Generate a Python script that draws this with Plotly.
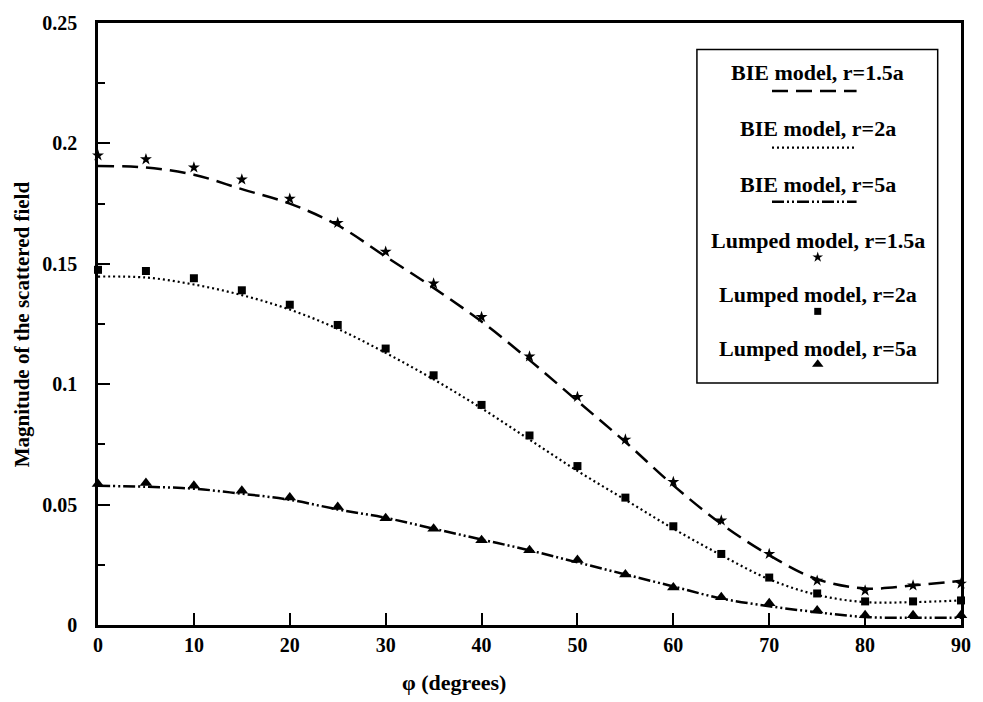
import plotly.graph_objects as go

phi = [0, 5, 10, 15, 20, 25, 30, 35, 40, 45, 50, 55, 60, 65, 70, 75, 80, 85, 90]

bie_15 = [0.1906, 0.1900, 0.187, 0.181, 0.175, 0.166, 0.153, 0.140, 0.126, 0.110, 0.093,
          0.076, 0.058, 0.042, 0.029, 0.019, 0.0152, 0.0164, 0.0184]
bie_2 = [0.1447, 0.1443, 0.1414, 0.137, 0.131, 0.123, 0.113, 0.102, 0.090, 0.077, 0.064,
         0.052, 0.040, 0.029, 0.019, 0.0125, 0.0095, 0.0095, 0.0102]
bie_5 = [0.0578, 0.0574, 0.0566, 0.0545, 0.052, 0.048, 0.0445, 0.040, 0.0355, 0.031, 0.026,
         0.021, 0.016, 0.011, 0.0078, 0.0053, 0.0033, 0.003, 0.003]

lump_15 = [0.195, 0.1934, 0.190, 0.185, 0.177, 0.167, 0.155, 0.1418, 0.1279, 0.1115, 0.0947,
           0.077, 0.0594, 0.0434, 0.0295, 0.0184, 0.0143, 0.0164, 0.0172]
lump_2 = [0.1475, 0.147, 0.144, 0.139, 0.133, 0.1246, 0.1148, 0.1037, 0.0914, 0.0787, 0.066,
          0.0529, 0.041, 0.0295, 0.0197, 0.0131, 0.0098, 0.0098, 0.0102]
lump_5 = [0.0586, 0.059, 0.0578, 0.0557, 0.0529, 0.049, 0.0443, 0.040, 0.0352, 0.031, 0.027,
          0.021, 0.0156, 0.0115, 0.009, 0.006, 0.004, 0.004, 0.004]

legend_labels = ["BIE model, r=1.5a", "BIE model, r=2a", "BIE model, r=5a",
                 "Lumped model, r=1.5a", "Lumped model, r=2a", "Lumped model, r=5a"]

FONT = "Liberation Serif"
BLACK = "#000000"

line_styles = [
    dict(width=2.5, dash="16px,8px"),
    dict(width=2.2, dash="2px,3px"),
    dict(width=2.5, dash="12px,3px,2px,3px,2px,3px"),
]
marker_styles = [
    dict(symbol="star", size=9),
    dict(symbol="square", size=8),
    dict(symbol="triangle-up", size=11),
]

fig = go.Figure()

for ys, st in zip([bie_15, bie_2, bie_5], line_styles):
    fig.add_trace(go.Scatter(x=phi, y=ys, mode="lines", line_shape="spline",
                             line=dict(color=BLACK, **st), showlegend=False,
                             hoverinfo="skip"))
for ys, ms in zip([lump_15, lump_2, lump_5], marker_styles):
    fig.add_trace(go.Scatter(x=phi, y=ys, mode="markers",
                             marker=dict(color=BLACK, **ms), showlegend=False,
                             cliponaxis=False))

# custom legend (box, centred labels, samples below each label)
lg_x0, lg_x1, lg_y0, lg_y1 = 0.694, 0.973, 0.402, 0.956
fig.add_shape(type="rect", xref="paper", yref="paper", x0=lg_x0, x1=lg_x1,
              y0=lg_y0, y1=lg_y1, line=dict(color=BLACK, width=1.5),
              fillcolor="white", layer="below")
text_y = [0.918, 0.825, 0.731, 0.639, 0.549, 0.459]
sample_y = [0.887, 0.793, 0.703, 0.611, 0.521, 0.433]
cx = 0.834
for lab, ty in zip(legend_labels, text_y):
    fig.add_annotation(x=cx, y=ty, xref="paper", yref="paper", text=lab,
                       xanchor="center", yanchor="middle", showarrow=False,
                       font=dict(family=FONT, size=22, color=BLACK, weight="bold"))
for st, sy in zip(line_styles, sample_y[:3]):
    fig.add_shape(type="line", xref="paper", yref="paper", x0=0.781, x1=0.879,
                  y0=sy, y1=sy, line=dict(color=BLACK, **st), layer="above")
for ms, sy in zip(marker_styles, sample_y[3:]):
    fig.add_trace(go.Scatter(x=[cx], y=[sy], xaxis="x2", yaxis="y2", mode="markers",
                             marker=dict(color=BLACK, symbol=ms["symbol"],
                                         size=ms["size"] - 1),
                             showlegend=False, hoverinfo="skip"))

axis_font = dict(family=FONT, size=20, color=BLACK, weight="bold")
fig.update_layout(
    width=983, height=702,
    margin=dict(l=98, r=18, t=15, b=77),
    paper_bgcolor="white", plot_bgcolor="white",
    font=dict(family=FONT, color=BLACK),
    showlegend=False,
    xaxis=dict(range=[0, 90], dtick=10, tick0=0, ticks="inside", ticklen=12,
               tickwidth=2, tickcolor=BLACK, showline=True, linecolor=BLACK,
               linewidth=2.5, mirror=True, showgrid=False, zeroline=False,
               tickfont=axis_font),
    yaxis=dict(range=[0, 0.25], dtick=0.05, tick0=0, ticks="inside", ticklen=12,
               tickwidth=2, tickcolor=BLACK, showline=True, linecolor=BLACK,
               linewidth=2.5, mirror=True, showgrid=False, zeroline=False,
               tickfont=axis_font, ticklabelstandoff=14,
               minor=dict(dtick=0.025, ticks="inside", ticklen=7, tickwidth=2,
                          tickcolor=BLACK, showgrid=False)),
    xaxis2=dict(range=[0, 1], overlaying="x", visible=False, fixedrange=True),
    yaxis2=dict(range=[0, 1], overlaying="y", visible=False, fixedrange=True),
)

fig.add_annotation(x=0.412, y=-0.095, xref="paper", yref="paper",
                   xanchor="center", yanchor="middle",
                   text="φ (degrees)", showarrow=False,
                   font=dict(family=FONT, size=22, color=BLACK, weight="bold"))
fig.add_annotation(x=-0.0877, y=0.5, xref="paper", yref="paper", textangle=-90,
                   xanchor="center", yanchor="middle",
                   text="Magnitude of the scattered field", showarrow=False,
                   font=dict(family=FONT, size=21, color=BLACK, weight="bold"))

fig.write_html("out.html")
